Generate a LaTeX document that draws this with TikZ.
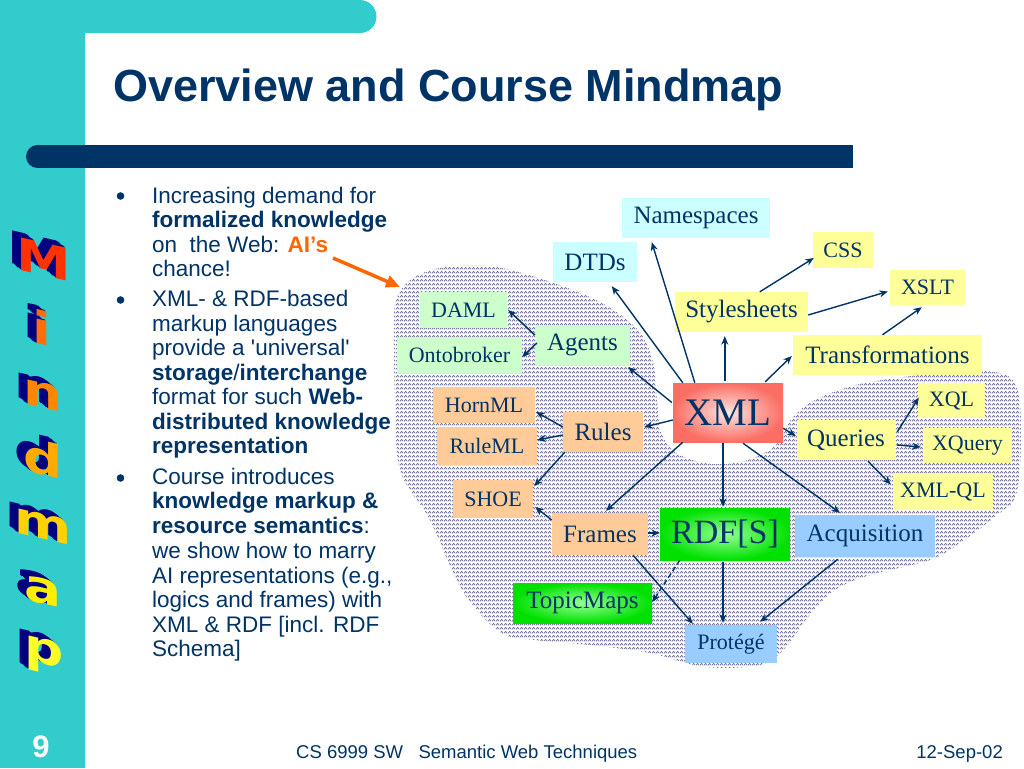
\documentclass[tikz,border=0pt]{standalone}
\usepackage{fontspec}
\setmainfont{Liberation Serif}
\newfontfamily\arialf{Liberation Sans}
\newfontfamily\heavyf{DejaVu Sans}
\usetikzlibrary{arrows.meta,patterns,calc}
\definecolor{cyanbg}{RGB}{51,204,204}
\definecolor{navy}{RGB}{0,51,102}
\definecolor{shadownavy}{RGB}{0,0,128}
\definecolor{orng}{RGB}{255,102,0}
\definecolor{lcyan}{RGB}{204,255,255}
\definecolor{yel}{RGB}{255,255,153}
\definecolor{peach}{RGB}{255,204,153}
\definecolor{lgreen}{RGB}{204,255,204}
\definecolor{lblue}{RGB}{153,204,255}
\definecolor{xmlin}{RGB}{255,228,224}
\definecolor{xmlout}{RGB}{250,110,100}
\definecolor{grin}{RGB}{150,255,150}
\definecolor{grout}{RGB}{0,225,0}
\definecolor{wavecol}{RGB}{95,95,145}
\definecolor{mcA}{RGB}{255,51,0}
\definecolor{mcB}{RGB}{255,110,10}
\definecolor{mcC}{RGB}{255,136,0}
\definecolor{mcD}{RGB}{255,170,0}
\definecolor{mcE}{RGB}{255,210,0}
\definecolor{mcF}{RGB}{255,238,0}
\definecolor{mcG}{RGB}{255,255,40}
\pgfdeclarepatternformonly{waves}{\pgfqpoint{0pt}{0pt}}{\pgfqpoint{4pt}{3.8pt}}{\pgfqpoint{4pt}{3.8pt}}{%
  \pgfsetlinewidth{0.75pt}%
  \pgfpathmoveto{\pgfqpoint{0pt}{0.7pt}}%
  \pgfpathlineto{\pgfqpoint{2pt}{2.8pt}}%
  \pgfpathlineto{\pgfqpoint{4pt}{0.7pt}}%
  \pgfusepath{stroke}}
\newcommand\sq{\XeTeXglyph\XeTeXcharglyph"27\relax}
\begin{document}
\begin{tikzpicture}[x=1pt,y=-1pt,
  box/.style={inner sep=0pt, text=navy, anchor=center},
  sz/.style 2 args={minimum width=#1pt, minimum height=#2pt},
  small/.style={font=\fontsize{22}{24}\selectfont},
  big/.style={font=\fontsize{25}{27}\selectfont},
  arr/.style={draw=navy, line width=1.4pt, -{Stealth[length=8.5pt,width=7pt]}},
  btxt/.style={anchor=base west, inner sep=0pt, text=navy, font=\arialf\fontsize{22.5}{24}\selectfont},
  letter/.style={inner sep=0pt, font=\heavyf\bfseries\fontsize{45}{45}\selectfont, xscale=1.22, yslant=-0.28}]
\useasboundingbox (0,0) rectangle (1024,768);
\fill[white] (0,0) rectangle (1024,768);
% frame
\fill[cyanbg] (0,0) rectangle (85,768);
\fill[cyanbg] (0,0) rectangle (360,33);
\fill[cyanbg] (360,16.5) circle (16.5);
\fill[navy] (37.5,145) rectangle (853,168);
\fill[navy] (37.5,156.5) circle (11.5);
% title
\node[anchor=base west, inner sep=0pt, text=navy, font=\arialf\bfseries\fontsize{45}{50}\selectfont] (title) at (113,101) {Overview and Course Mindmap};
% side letters
\foreach \ch/\col/\xx/\yy [count=\i] in {M/mcA/44/259, i/mcB/42/328, n/mcC/43/395, d/mcD/43/458, m/mcE/43/526, a/mcF/43/591, p/mcG/44/656} {
  \foreach \k in {7,...,1} \node[letter, text=shadownavy] at ({\xx-1.25*\k},{\yy-0.95*\k}) {\ch};
  \node[letter, text=\col] (L\i) at (\xx,\yy) {\ch};
}
% bullets
\fill[navy] (120.5,196) circle (3.8);
\fill[navy] (120.5,300) circle (3.8);
\fill[navy] (120.5,478) circle (3.8);
\node[btxt] (t1) at (152,203) {Increasing demand for};
\node[btxt] (t2) at (152,227.5) {\textbf{formalized knowledge}};
\node[btxt] (t3) at (152,252) {on\ \ the Web: \textcolor{orng}{\textbf{AI’s}}};
\node[btxt] (t4) at (152,276) {chance!};
\node[btxt] (t5) at (152,306) {XML- \& RDF-based};
\node[btxt] (t6) at (152,331) {markup languages};
\node[btxt] (t7) at (152,355) {provide a \sq universal\sq};
\node[btxt] (t8) at (152,380) {\textbf{storage}/\textbf{interchange}};
\node[btxt] (t9) at (152,404) {format for such \textbf{Web-}};
\node[btxt] (t10) at (152,429) {\textbf{distributed knowledge}};
\node[btxt] (t11) at (152,453) {\textbf{representation}};
\node[btxt] (t12) at (152,484) {Course introduces};
\node[btxt] (t13) at (152,508) {\textbf{knowledge markup \&}};
\node[btxt] (t14) at (152,533) {\textbf{resource semantics}:};
\node[btxt] (t15) at (152,558) {we show how to marry};
\node[btxt] (t16) at (152,583) {AI representations (e.g.,};
\node[btxt] (t17) at (152,607) {logics and frames) with};
\node[btxt] (t18) at (152,632) {XML \& RDF [incl. RDF};
\node[btxt] (t19) at (152,656) {Schema]};
% cloud
\fill[pattern=waves, pattern color=wavecol] plot[smooth cycle, tension=0.55] coordinates {
 (396,300) (410,280) (440,268) (490,266) (545,280) (600,302) (638,330) (653,362) (657,400) (661,432)
 (678,454) (712,464) (748,460) (777,444) (792,418) (815,400) (860,384) (930,374) (995,372) (1017,388)
 (1021,440) (1016,495) (997,515) (960,543) (930,560) (870,575) (835,590) (808,617) (785,648) (760,665)
 (705,667) (650,653) (590,645) (535,640) (500,632) (462,590) (430,520) (400,470) (395,400) (394,330)};
% orange arrow
\coordinate (aisend) at (333,258);
\coordinate (cloudtip) at (400,287);
\draw[orng, line width=3.5pt, -{Triangle[length=14pt,width=12pt]}] (aisend) -- (cloudtip);
% boxes
\node[box,big,fill=lcyan,sz={148}{40}] (ns) at (696,218) {Namespaces};
\node[box,big,fill=lcyan,sz={84}{40}] (dtd) at (595,262) {DTDs};
\node[box,small,fill=yel,sz={60}{36}] (css) at (843,250) {CSS};
\node[box,small,fill=yel,sz={75}{35}] (xslt) at (927.5,287.5) {XSLT};
\node[box,big,fill=yel,sz={133}{40}] (sty) at (741.5,312) {Stylesheets};
\node[box,big,fill=yel,sz={189}{40}] (trans) at (887.5,355) {Transformations};
\node[box,shading=radial,inner color=xmlin,outer color=xmlout,sz={110}{59},font=\fontsize{39}{40}\selectfont] (xml) at (728,412.5) {XML};
\node[box,small,fill=yel,sz={67}{35}] (xql) at (951.5,400.5) {XQL};
\node[box,big,fill=yel,sz={98}{40}] (que) at (846,440) {Queries};
\node[box,small,fill=yel,sz={89}{35}] (xq) at (967.5,445.5) {XQuery};
\node[box,small,fill=yel,sz={100}{37}] (xmlql) at (943,491.5) {XML-QL};
\node[box,big,fill=lblue,sz={140}{42}] (acq) at (865,536) {Acquisition};
\node[box,shading=radial,inner color=grin,outer color=grout,sz={130}{52},font=\fontsize{34}{36}\selectfont] (rdf) at (725,534) {RDF[S]};
\node[box,big,fill=peach,sz={96}{42}] (frames) at (600,534) {Frames};
\node[box,big,shading=radial,inner color=grin,outer color=grout,sz={139}{40}] (topic) at (582.5,603) {TopicMaps};
\node[box,small,fill=lblue,sz={92}{38}] (prot) at (731,644) {Protégé};
\node[box,small,fill=peach,sz={80}{38}] (shoe) at (493,499) {SHOE};
\node[box,small,fill=peach,sz={100}{38}] (ruleml) at (487,446) {RuleML};
\node[box,small,fill=peach,sz={102}{36}] (horn) at (484,405) {HornML};
\node[box,big,fill=peach,sz={80}{40}] (rules) at (603,432) {Rules};
\node[box,small,fill=lgreen,sz={87}{36}] (daml) at (463.5,310) {DAML};
\node[box,small,fill=lgreen,sz={125}{36}] (onto) at (459.5,355) {Ontobroker};
\node[box,big,fill=lgreen,sz={95}{40}] (agents) at (582.5,345) {Agents};
% connectors
\draw[arr] ($(xml.north west)+(22,0)$) -- ($(ns.south west)+(30,4)$);
\draw[arr] ($(xml.north west)+(10,0)$) -- ($(dtd.south west)+(59,4)$);
\draw[arr] ($(xml.north west)+(52,-2)$) -- ($(sty.south west)+(50,4)$);
\draw[arr] ($(xml.north east)+(-18,-1)$) -- ($(trans.west)+(-1,1)$);
\draw[arr] ($(sty.north west)+(85,0)$) -- ($(css.west)+(1,8)$);
\draw[arr] ($(sty.east)+(0,3)$) -- ($(xslt.west)+(-2,4)$);
\draw[arr] ($(trans.north)+(-5,0)$) -- ($(xslt.south west)+(32,2)$);
\draw[arr] ($(xml.south east)+(0,-14)$) -- ($(que.west)+(-1,-4)$);
\draw[arr] ($(que.east)+(2,-8)$) -- ($(xql.west)+(1,-3)$);
\draw[arr] ($(que.east)+(2,5)$) -- ($(xq.west)+(-2,1.5)$);
\draw[arr] ($(que.south)+(22,1)$) -- ($(xmlql.west)+(-2,-7)$);
\draw[arr] ($(xml.south)+(15,1)$) -- ($(acq.north)+(-25,-2)$);
\draw[arr] ($(xml.south)+(-5,1)$) -- ($(rdf.north)+(-2,-1)$);
\draw[arr] ($(xml.south west)+(10,0)$) -- ($(frames.north)+(6,-2)$);
\draw[arr] ($(xml.west)+(0,7.5)$) -- ($(rules.east)+(1,-5)$);
\draw[arr] ($(xml.west)+(-1,-10)$) -- ($(agents.south east)+(-2,2)$);
\draw[arr] ($(agents.west)+(0,-10)$) -- ($(daml.east)+(1,0)$);
\draw[arr] ($(agents.west)+(2,-2)$) -- ($(onto.east)+(0,2)$);
\draw[arr] ($(rules.west)+(0,-5)$) -- ($(horn.east)+(1,7)$);
\draw[arr] ($(rules.west)+(0,3)$) -- ($(ruleml.east)+(0,-6)$);
\draw[arr] ($(rules.south west)+(2,0)$) -- ($(shoe.east)+(1,-13)$);
\draw[arr] ($(frames.west)+(0,-14)$) -- ($(shoe.east)+(2,8)$);
\draw[arr] ($(frames.east)+(0,-1)$) -- ($(rdf.west)+(0,-1)$);
\draw[arr, dash pattern=on 5pt off 3pt] ($(rdf.south west)+(20,0)$) -- ($(topic.east)+(0,-1)$);
\draw[arr] ($(frames.south)+(33,0)$) -- ($(prot.north west)+(8,-1)$);
\draw[arr] ($(rdf.south)+(-2,2)$) -- ($(prot.north)+(-8,-2)$);
\draw[arr] ($(acq.south west)+(43,2)$) -- ($(prot.north east)+(-17,-3)$);
% footer
\node[anchor=base, inner sep=0pt, text=white, font=\arialf\bfseries\fontsize{31}{32}\selectfont] (pagenum) at (41,757) {9};
\node[anchor=base west, inner sep=0pt, text=navy, font=\arialf\fontsize{18.5}{20}\selectfont] (foot) at (296,758) {CS 6999 SW\ \ \ Semantic Web Techniques};
\node[anchor=base east, inner sep=0pt, text=navy, font=\arialf\fontsize{18.5}{20}\selectfont] (date) at (1003,758) {12-Sep-02};
\end{tikzpicture}
\end{document}
